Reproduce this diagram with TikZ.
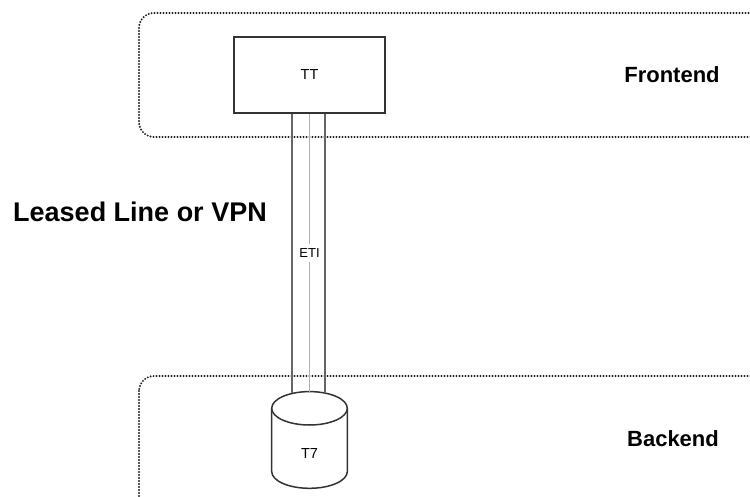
\documentclass[tikz,border=0pt]{standalone}
\usepackage{fontspec}
\setmainfont{Liberation Sans}
\definecolor{borderc}{HTML}{333333}
\definecolor{pipec}{HTML}{666666}
\definecolor{redc}{HTML}{FF8C8C}
\definecolor{dotc}{HTML}{222222}
\begin{document}
\begin{tikzpicture}[x=1pt,y=-1pt,
  container/.style={draw=dotc, line width=2.2pt, line cap=round, dash pattern=on 0pt off 3pt, rounded corners=15pt},
  ttbox/.style={draw=borderc, line width=1.5pt, fill=white, minimum width=151pt, minimum height=76pt, inner sep=0pt, font=\fontsize{14.5}{17}\selectfont},
  pipe/.style={draw=pipec, line width=2pt},
  redline/.style={draw=redc, line width=1.8pt},
  cylstyle/.style={draw=borderc, line width=1.5pt, fill=white},
  biglabel/.style={font=\fontsize{22}{26}\selectfont\bfseries, inner sep=0pt},
  etilabel/.style={fill=white, inner xsep=2pt, inner ysep=4.6pt, font=\fontsize{13}{15}\selectfont}
]
\useasboundingbox (0,0) rectangle (750,497);
\clip (0,0) rectangle (750,497);
% containers
\draw[container] (139,13) rectangle (790,137);
\draw[container] (139,376) rectangle (790,540);
% TT box
\node[ttbox] (tt) at (309.5,75) {TT};
% cylinder T7
\draw[cylstyle] (271.7,408.3) -- (271.7,471.6) arc[start angle=180, end angle=360, x radius=37.8pt, y radius=16.7pt] -- (347.3,408.3);
\draw[cylstyle] (309.5,408.3) ellipse[x radius=37.8pt, y radius=16.7pt];
\node[inner sep=0pt, font=\fontsize{14.5}{17}\selectfont] (t7) at (309.5,454) {T7};
\coordinate (cylL) at (292,393.4);
\coordinate (cylR) at (325,393.4);
\coordinate (cylC) at (309.5,391.6);
% pipe
\draw[pipe] (tt.south -| cylL) -- (cylL);
\draw[pipe] (tt.south -| cylR) -- (cylR);
\draw[redline] (tt.south) -- node[etilabel] (eti) {ETI} (cylC);
% labels
\node[biglabel] (fe) at (672,74.5) {Frontend};
\node[biglabel] (be) at (673,438.5) {Backend};
\node[font=\fontsize{27}{31}\selectfont\bfseries, inner sep=0pt] (ll) at (140,212) {Leased Line or VPN};
\end{tikzpicture}
\end{document}
